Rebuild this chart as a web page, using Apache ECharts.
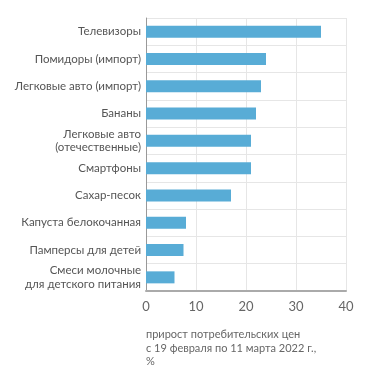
<!DOCTYPE html>
<html><head><meta charset="utf-8">
<script src="https://cdn.jsdelivr.net/npm/echarts@6/dist/echarts.min.js"></script>
<style>html,body{margin:0;padding:0;background:#fff}#c{width:371px;height:384px}</style>
</head><body><div id="c"></div>
<script>
const categories = ['Телевизоры','Помидоры (импорт)','Легковые авто (импорт)','Бананы','Легковые авто\n(отечественные)','Смартфоны','Сахар-песок','Капуста белокочанная','Памперсы для детей','Смеси молочные\nдля детского питания'];
const values = [35, 24, 23, 22, 21, 21, 17, 8, 7.5, 5.7];
const xTicks = [0, 10, 20, 30, 40];
const axisTitle = 'прирост потребительских цен\nс 19 февраля по 11 марта 2022 г.,\n%';

const chart = echarts.init(document.getElementById('c'), null, {renderer:'canvas'});
const font = 'Lato, sans-serif';
chart.setOption({
  animation: false,
  grid: {left: 146, right: 25, top: 18, bottom: 93, containLabel: false},
  xAxis: {
    type: 'value', min: xTicks[0], max: xTicks[xTicks.length-1], interval: 10,
    axisLine: {show: true, lineStyle: {color: '#aaaaaa', width: 2}},
    axisTick: {show: false},
    axisLabel: {color: '#666', fontSize: 13, fontFamily: font, margin: 9},
    splitLine: {show: true, lineStyle: {color: '#e6e6e6', width: 1}}
  },
  yAxis: {
    type: 'category', data: categories, inverse: true,
    axisLine: {show: true, lineStyle: {color: '#999', width: 1}},
    axisTick: {show: false},
    axisLabel: {color: '#555', fontSize: 11.5, fontFamily: font, margin: 5, lineHeight: 13.5},
    splitLine: {show: true, lineStyle: {color: '#e6e6e6', width: 1}}
  },
  series: [{
    type: 'bar', data: values, barWidth: 12,
    itemStyle: {color: '#58acd6'}
  }],
  graphic: [{
    type: 'text', left: 146, top: 328,
    style: {text: axisTitle, fill: '#666', font: '11px ' + font, lineHeight: 13.5}
  }]
});
</script></body></html>
